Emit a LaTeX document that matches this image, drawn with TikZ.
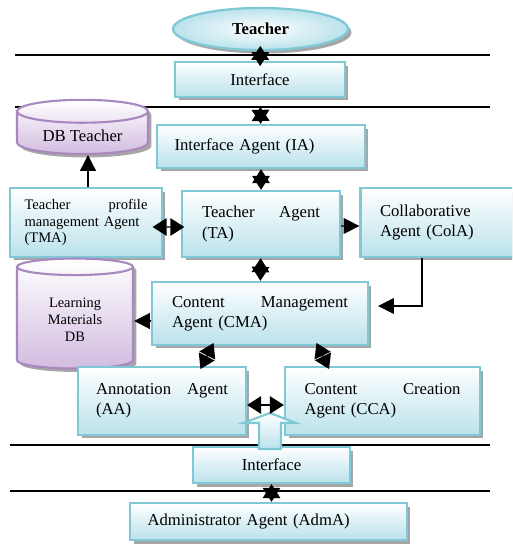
\documentclass[tikz,border=0pt]{standalone}
\usepackage{fontspec}
\setmainfont{Liberation Serif}
\usetikzlibrary{arrows.meta,shapes.geometric,shadows}

\definecolor{boxline}{RGB}{128,200,214}
\definecolor{boxfill}{RGB}{186,226,235}
\definecolor{dbline}{RGB}{168,136,190}
\definecolor{dbfill}{RGB}{210,188,224}

\tikzset{
	shade/.style={drop shadow={shadow xshift=0.7mm, shadow yshift=-0.7mm, fill=black!50, opacity=0.7}},
	box/.style={draw=boxline, line width=1.3pt, top color=white, bottom color=boxfill, shade, font=\fontsize{9.5}{11.5}\selectfont},
	agent/.style={box, align=left},
	user/.style={ellipse, draw=boxline, line width=1.3pt, inner color=white, outer color=boxfill, shade, font=\fontsize{9.5}{11.5}\selectfont\bfseries},
	db/.style={cylinder, shape border rotate=90, aspect=0.25, draw=dbline, line width=1.2pt, top color=white, bottom color=dbfill, shade, align=center},
	link/.style={-{Triangle[length=9pt,width=9pt]}, line width=0.8pt},
	dbl/.style={{Triangle[length=8pt,width=10pt]}-{Triangle[length=8pt,width=10pt]}, line width=0.8pt},
	sep/.style={line width=0.9pt},
}

\begin{document}
\begin{tikzpicture}[x=0.02cm, y=-0.02cm]
		\useasboundingbox (0,0) rectangle (512,544);
		\clip (0,0) rectangle (512,544);

		% layer separators
		\draw[sep] (15,55) -- (490,55);
		\draw[sep] (15,107) -- (490,107);
		\draw[sep] (10,445) -- (490,445);
		\draw[sep] (10,491) -- (490,491);

		\node[user, minimum width=3.5cm, minimum height=0.84cm] (teacher) at (260.5,29) {Teacher};
		\node[box, minimum width=3.4cm, minimum height=0.7cm] (int1) at (260,79.5) {Interface};
		\node[agent, text width=3.46cm, inner xsep=0.35cm, minimum height=0.86cm] (ia) at (261,146.5) {Interface Agent (IA)};
		\node[db, minimum width=2.62cm, minimum height=0.9cm, font=\fontsize{9.5}{11.5}\selectfont] (dbt) at (82.5,135.5) {DB Teacher};
		\node[agent, font=\fontsize{8.3}{9.5}\selectfont, text width=2.46cm, inner xsep=0.29cm, minimum height=1.38cm] (tma) at (86,222.5) {Teacher\hfill profile\\management Agent\\(TMA)};
		\node[agent, text width=2.36cm, inner xsep=0.4cm, minimum height=1.32cm] (ta) at (261,224) {Teacher\hfill Agent\\(TA)};
		\node[agent, text width=2.6cm, inner xsep=0.39cm, minimum height=1.38cm] (cola) at (445,222.5) {Collaborative\\Agent (ColA)};
		\node[agent, text width=3.52cm, inner xsep=0.4cm, minimum height=1.26cm] (cma) at (260,313.5) {Content\hfill Management\\Agent (CMA)};
		\node[db, minimum width=2.32cm, minimum height=2.2cm, font=\fontsize{8.2}{9.7}\selectfont] (lmdb) at (75,320) {Learning\\Materials\\DB};
		\node[agent, text width=2.64cm, inner xsep=0.36cm, minimum height=1.36cm] (aa) at (162,401) {Annotation\hfill Agent\\(AA)};
		\node[agent, text width=3.12cm, inner xsep=0.39cm, minimum height=1.36cm] (cca) at (382.5,401) {Content\hfill Creation\\Agent (CCA)};
		\node[box, minimum width=3.14cm, minimum height=0.72cm] (int2) at (271.5,465) {Interface};
		\node[agent, text width=4.84cm, inner xsep=0.35cm, minimum height=0.74cm] (adma) at (268.5,521.5) {Administrator Agent (AdmA)};

		% hollow arrow up from the lower interface
		\draw[draw=boxline, line width=1.2pt, top color=white, bottom color=boxfill] (259,449) -- (259,423) -- (243,423) -- (270,413) -- (296,423) -- (281,423) -- (281,449) -- cycle;

		\draw[dbl, shorten <=-3pt, shorten >=-3pt] (teacher) -- (int1);
		\draw[dbl, shorten <=5pt] (int1) -- (ia);
		\draw[dbl] (ia) -- (ta);
		\draw[dbl, shorten <=-6pt, shorten >=-2pt] ([yshift=-0.09cm]tma.east) -- ([yshift=-0.06cm]ta.west);
		\draw[link] ([yshift=-0.04cm]ta.east) -- ([yshift=-0.07cm]cola.west);
		\draw[link] ([xshift=0.04cm]tma.north) -- ([xshift=0.04cm]tma.north |- dbt.south);
		\draw[link, line width=0.6pt] ([xshift=-0.46cm]cola.south) |- ([xshift=0.18cm, yshift=0.15cm]cma.east);
		\draw[dbl] (ta) -- (cma);
		\draw[link] ([yshift=-0.15cm]cma.west) -- ([yshift=-0.15cm]cma.west -| lmdb.east);
		\draw[dbl, shorten <=-2pt, shorten >=-2pt] ([xshift=0.8cm]aa.north) -- ([xshift=-0.96cm]cma.south);
		\draw[dbl, shorten <=-2pt, shorten >=-2pt] ([xshift=-1.1cm]cca.north) -- ([xshift=1.16cm]cma.south);
		\draw[dbl] ([yshift=-0.08cm]aa.east) -- ([yshift=-0.08cm]cca.west);
		\draw[dbl] (int2.south) -- (int2.south |- adma.north);
\end{tikzpicture}
\end{document}
